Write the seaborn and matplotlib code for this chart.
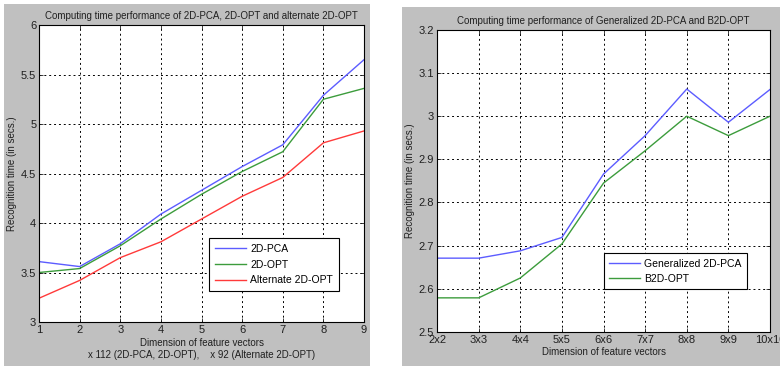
# computing time comparison charts (2D-PCA / 2D-OPT variants)

import numpy as np
import pandas as pd
import matplotlib
matplotlib.use('Agg')
import matplotlib.pyplot as plt
from matplotlib.patches import Rectangle
import seaborn as sns

# left panel data
dims_left = [1, 2, 3, 4, 5, 6, 7, 8, 9]
pca_2d = [3.61, 3.56, 3.79, 4.09, 4.33, 4.57, 4.79, 5.29, 5.65]
opt_2d = [3.50, 3.54, 3.77, 4.04, 4.29, 4.52, 4.72, 5.25, 5.36]
alt_opt_2d = [3.24, 3.42, 3.65, 3.81, 4.04, 4.27, 4.46, 4.81, 4.93]
left_names = ['2D-PCA', '2D-OPT', 'Alternate 2D-OPT']

# right panel data
dims_right = ['2x2', '3x3', '4x4', '5x5', '6x6', '7x7', '8x8', '9x9', '10x10']
gen_pca = [2.671, 2.671, 2.688, 2.719, 2.866, 2.955, 3.063, 2.986, 3.062]
b2d_opt = [2.579, 2.579, 2.625, 2.704, 2.845, 2.920, 3.000, 2.955, 3.000]
right_names = ['Generalized 2D-PCA', 'B2D-OPT']

colors = ['#5c5cff', '#3c9c3c', '#ff3a3a']
panel_grey = '#c0c0c0'

plt.rcParams['font.family'] = ['Liberation Sans', 'DejaVu Sans']


def style_axes(ax):
    ax.set_facecolor('white')
    ax.grid(True, color='black', linestyle=(0, (2, 3)), linewidth=0.7)
    ax.tick_params(direction='in', top=True, right=True, length=3, width=0.6,
                   labelsize=8, colors='#202020', pad=2)
    for s in ax.spines.values():
        s.set_color('black')
        s.set_linewidth(0.8)


fig = plt.figure(figsize=(7.8, 3.68), dpi=100, facecolor='white')

# grey panels behind each axes
fig.patches.append(Rectangle((0.005, 0.005), 0.469, 0.984, transform=fig.transFigure,
                             facecolor=panel_grey, edgecolor='none', zorder=-10))
fig.patches.append(Rectangle((0.5154, 0.005), 0.4846, 0.976, transform=fig.transFigure,
                             facecolor=panel_grey, edgecolor='none', zorder=-10))

# left chart
left_df = pd.DataFrame({
    'dim': dims_left * 3,
    'time': pca_2d + opt_2d + alt_opt_2d,
    'method': sum([[n] * len(dims_left) for n in left_names], []),
})
ax1 = fig.add_axes([0.05, 0.125, 0.4167, 0.807])
sns.lineplot(data=left_df, x='dim', y='time', hue='method', palette=colors,
             linewidth=1.0, ax=ax1)
ax1.set_xlim(1, 9)
ax1.set_ylim(3, 6)
ax1.set_xticks(dims_left)
ax1.set_yticks(np.arange(3, 6.01, 0.5))
ax1.set_yticklabels(['3', '3.5', '4', '4.5', '5', '5.5', '6'])
style_axes(ax1)
ax1.set_xlabel('Dimension of feature vectors\n'
               'x 112 (2D-PCA, 2D-OPT),    x 92 (Alternate 2D-OPT)',
               fontsize=7, color='#202020', labelpad=2, linespacing=1.3)
ax1.set_ylabel('Recognition time (in secs.)', fontsize=7, color='#202020', labelpad=3)
ax1.set_title('Computing time performance of 2D-PCA, 2D-OPT and alternate 2D-OPT',
              fontsize=7, color='#202020', pad=4)
leg1 = ax1.legend(loc='lower left', bbox_to_anchor=(0.523, 0.104), borderaxespad=0,
                  fontsize=7.5, fancybox=False, framealpha=1, edgecolor='black',
                  handlelength=3.0, handletextpad=0.4, labelspacing=0.55,
                  borderpad=0.55)
leg1.get_frame().set_linewidth(0.8)

# right chart
right_df = pd.DataFrame({
    'pos': list(range(len(dims_right))) * 2,
    'time': gen_pca + b2d_opt,
    'method': sum([[n] * len(dims_right) for n in right_names], []),
})
ax2 = fig.add_axes([0.5603, 0.098, 0.4269, 0.8207])
sns.lineplot(data=right_df, x='pos', y='time', hue='method', palette=colors[:2],
             linewidth=1.0, ax=ax2)
ax2.set_xlim(0, len(dims_right) - 1)
ax2.set_ylim(2.5, 3.2)
ax2.set_xticks(range(len(dims_right)))
ax2.set_xticklabels(dims_right)
ax2.set_yticks(np.arange(2.5, 3.201, 0.1))
ax2.set_yticklabels(['2.5', '2.6', '2.7', '2.8', '2.9', '3', '3.1', '3.2'])
style_axes(ax2)
ax2.set_xlabel('Dimension of feature vectors', fontsize=7, color='#202020', labelpad=2)
ax2.set_ylabel('Recognition time (in secs.)', fontsize=7, color='#202020', labelpad=3)
ax2.set_title('Computing time performance of Generalized 2D-PCA and B2D-OPT',
              fontsize=7, color='#202020', pad=4)
leg2 = ax2.legend(loc='lower left', bbox_to_anchor=(0.50, 0.142), borderaxespad=0,
                  fontsize=7.5, fancybox=False, framealpha=1, edgecolor='black',
                  handlelength=3.0, handletextpad=0.4, labelspacing=0.5,
                  borderpad=0.5)
leg2.get_frame().set_linewidth(0.8)

fig.savefig('out.png', dpi=100, facecolor='white')
plt.close(fig)
